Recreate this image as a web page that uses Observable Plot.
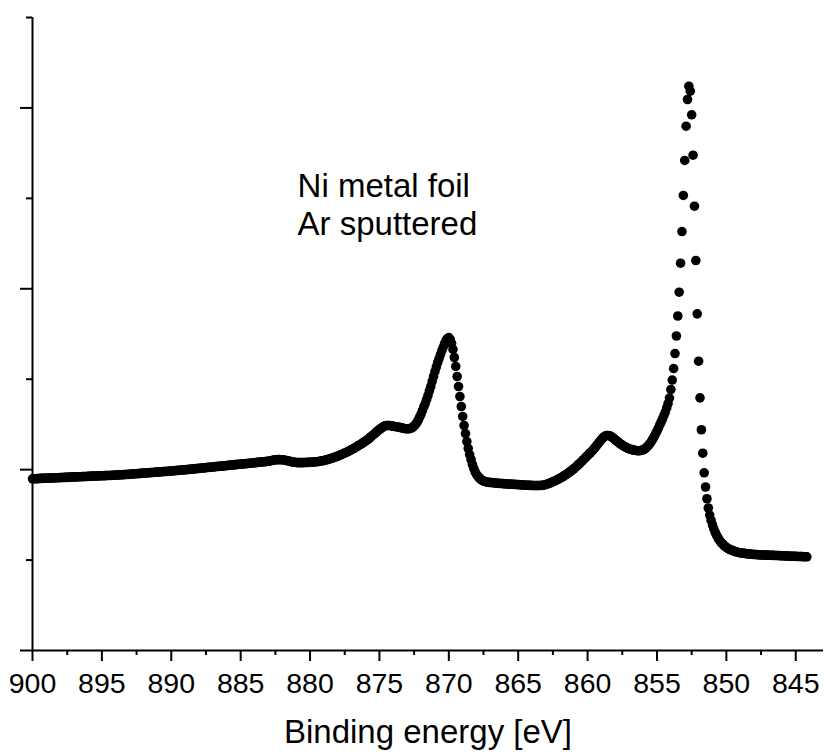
<!DOCTYPE html>
<html>
<head>
<meta charset="utf-8">
<script src="https://cdn.jsdelivr.net/npm/d3@7"></script>
<script src="https://cdn.jsdelivr.net/npm/@observablehq/plot@0.6"></script>
<style>
  html, body { margin: 0; padding: 0; background: #fff; }
</style>
</head>
<body>
<div id="chart"></div>
<script>
// Ni 2p XPS spectrum of an Ar-sputtered Ni foil.
// Intensity in arbitrary units, one channel every 0.1 eV,
// each block listed from high to low binding energy.
const channelStep = 0.1; // eV

// 900.0 – 878.1 eV: inelastic background with the weak bump near 882 eV
const backgroundStart = 900.0;
const background = [
  18.99, 18.99, 19.00, 19.01, 19.01, 19.02, 19.03, 19.03, 19.04, 19.05,
  19.06, 19.06, 19.07, 19.07, 19.08, 19.09, 19.09, 19.10, 19.11, 19.11,
  19.12, 19.13, 19.13, 19.14, 19.15, 19.15, 19.16, 19.17, 19.17, 19.18,
  19.19, 19.20, 19.20, 19.21, 19.22, 19.22, 19.23, 19.24, 19.24, 19.25,
  19.26, 19.27, 19.27, 19.28, 19.29, 19.29, 19.30, 19.30, 19.31, 19.32,
  19.32, 19.33, 19.34, 19.34, 19.35, 19.36, 19.36, 19.37, 19.38, 19.38,
  19.39, 19.40, 19.41, 19.42, 19.43, 19.44, 19.45, 19.46, 19.47, 19.48,
  19.49, 19.50, 19.51, 19.53, 19.54, 19.55, 19.56, 19.57, 19.59, 19.60,
  19.61, 19.62, 19.63, 19.65, 19.66, 19.67, 19.68, 19.69, 19.71, 19.72,
  19.73, 19.74, 19.75, 19.77, 19.78, 19.79, 19.80, 19.81, 19.83, 19.84,
  19.85, 19.86, 19.88, 19.89, 19.91, 19.92, 19.93, 19.95, 19.96, 19.97,
  19.99, 20.00, 20.02, 20.03, 20.05, 20.06, 20.08, 20.09, 20.11, 20.12,
  20.14, 20.16, 20.17, 20.19, 20.20, 20.22, 20.24, 20.25, 20.27, 20.28,
  20.30, 20.31, 20.33, 20.34, 20.36, 20.37, 20.39, 20.40, 20.42, 20.43,
  20.45, 20.47, 20.48, 20.50, 20.51, 20.53, 20.55, 20.56, 20.58, 20.59,
  20.61, 20.62, 20.64, 20.65, 20.67, 20.68, 20.70, 20.71, 20.73, 20.74,
  20.76, 20.78, 20.80, 20.82, 20.83, 20.85, 20.86, 20.87, 20.89, 20.91,
  20.93, 20.96, 20.99, 21.02, 21.05, 21.08, 21.10, 21.11, 21.11, 21.10,
  21.09, 21.07, 21.04, 21.01, 20.98, 20.94, 20.90, 20.86, 20.83, 20.81,
  20.79, 20.78, 20.78, 20.78, 20.78, 20.78, 20.79, 20.79, 20.80, 20.80,
  20.81, 20.82, 20.83, 20.85, 20.87, 20.88, 20.90, 20.93, 20.96, 20.98,
  21.01, 21.05, 21.09, 21.13, 21.18, 21.22, 21.28, 21.33, 21.39, 21.44
];

// 878.0 – 863.1 eV: Ni 2p1/2 line (870 eV) with its satellite shoulder near 874.5 eV
const ni2p12Start = 878.0;
const ni2p12 = [
  21.50, 21.56, 21.63, 21.70, 21.76, 21.83, 21.90, 21.97, 22.06, 22.14,
  22.23, 22.30, 22.39, 22.48, 22.57, 22.67, 22.76, 22.86, 22.96, 23.06,
  23.15, 23.26, 23.38, 23.51, 23.64, 23.78, 23.91, 24.04, 24.17, 24.31,
  24.44, 24.55, 24.66, 24.77, 24.85, 24.88, 24.88, 24.88, 24.86, 24.84,
  24.80, 24.77, 24.75, 24.72, 24.69, 24.66, 24.62, 24.58, 24.55, 24.53,
  24.52, 24.52, 24.55, 24.60, 24.69, 24.83, 24.99, 25.21, 25.49, 25.82,
  26.15, 26.54, 26.93, 27.31, 27.76, 28.20, 28.70, 29.19, 29.75, 30.30,
  30.85, 31.35, 31.85, 32.29, 32.73, 33.17, 33.56, 33.95, 34.28, 34.50,
  34.61, 34.39, 33.95, 33.29, 32.40, 31.41, 30.30, 29.19, 28.09, 26.98,
  25.88, 24.88, 23.99, 23.11, 22.34, 21.67, 21.12, 20.57, 20.13, 19.74,
  19.46, 19.24, 19.08, 18.93, 18.82, 18.74, 18.69, 18.64, 18.61, 18.59,
  18.58, 18.57, 18.55, 18.53, 18.51, 18.49, 18.48, 18.47, 18.46, 18.45,
  18.44, 18.43, 18.42, 18.41, 18.40, 18.39, 18.38, 18.37, 18.36, 18.35,
  18.34, 18.33, 18.32, 18.31, 18.30, 18.29, 18.28, 18.27, 18.26, 18.26,
  18.25, 18.24, 18.24, 18.24, 18.24, 18.24, 18.25, 18.26, 18.28, 18.31
];

// 863.0 – 855.1 eV: satellite of the Ni 2p3/2 line near 858.6 eV
const satelliteStart = 863.0;
const satellite = [
  18.36, 18.41, 18.47, 18.52, 18.59, 18.66, 18.72, 18.80, 18.88, 18.95,
  19.03, 19.12, 19.21, 19.31, 19.41, 19.51, 19.62, 19.73, 19.85, 19.97,
  20.09, 20.23, 20.36, 20.50, 20.65, 20.79, 20.94, 21.10, 21.25, 21.41,
  21.56, 21.72, 21.87, 22.03, 22.19, 22.37, 22.56, 22.76, 22.96, 23.16,
  23.34, 23.51, 23.64, 23.73, 23.78, 23.78, 23.74, 23.66, 23.55, 23.43,
  23.30, 23.17, 23.05, 22.92, 22.81, 22.71, 22.61, 22.53, 22.44, 22.36,
  22.29, 22.25, 22.21, 22.17, 22.14, 22.12, 22.09, 22.09, 22.11, 22.14,
  22.19, 22.28, 22.39, 22.54, 22.71, 22.91, 23.13, 23.39, 23.66, 23.96
];

// 855.0 – 844.2 eV: Ni 2p3/2 main line (852.7 eV) and its low-energy side
const ni2p32Start = 855.0;
const ni2p32 = [
  24.27, 24.60, 24.94, 25.27, 25.60, 25.99, 26.37, 26.82, 27.31, 27.92,
  28.86, 29.91, 31.18, 32.84, 34.78, 36.99, 39.62, 42.83, 46.33, 50.32,
  54.19, 57.98, 60.93, 62.40, 61.85, 59.24, 54.77, 49.13, 43.13, 37.23,
  31.99, 27.94, 24.41, 21.82, 19.65, 18.08, 16.78, 15.76, 14.98, 14.38,
  13.88, 13.44, 13.05, 12.72, 12.44, 12.20, 11.99, 11.81, 11.66, 11.52,
  11.40, 11.30, 11.21, 11.14, 11.07, 11.01, 10.96, 10.91, 10.87, 10.84,
  10.80, 10.78, 10.76, 10.74, 10.72, 10.69, 10.68, 10.66, 10.65, 10.63,
  10.62, 10.61, 10.60, 10.59, 10.58, 10.57, 10.56, 10.56, 10.55, 10.55,
  10.54, 10.53, 10.53, 10.52, 10.52, 10.51, 10.50, 10.50, 10.49, 10.48,
  10.47, 10.47, 10.46, 10.45, 10.45, 10.44, 10.43, 10.43, 10.42, 10.42,
  10.41, 10.40, 10.40, 10.39, 10.39, 10.38, 10.37, 10.37, 10.36
];

// Axis ticks
const majorTicksX = [900, 895, 890, 885, 880, 875, 870, 865, 860, 855, 850, 845];
const minorTicksX = [897.5, 892.5, 887.5, 882.5, 877.5, 872.5, 867.5, 862.5, 857.5, 852.5, 847.5];
const majorTicksY = [0, 20, 40, 60];
const minorTicksY = [10, 30, 50, 70];

// Texts
const axisTitle = "Binding energy [eV]";
const sampleNote = "Ni metal foil\nAr sputtered";
const noteEnergy = 880.9;   // left edge of the note, eV
const noteCounts = 45.9;    // baseline of its last line

const blocks = [
  [backgroundStart, background],
  [ni2p12Start, ni2p12],
  [satelliteStart, satellite],
  [ni2p32Start, ni2p32]
];
const spectrum = blocks.flatMap(([start, values]) =>
  values.map((counts, i) => ({energy: +(start - i * channelStep).toFixed(1), counts}))
);

const font = "'Liberation Sans', Arial, Helvetica, sans-serif";
const noLabel = () => "";

const chart = Plot.plot({
  width: 825,
  height: 753,
  marginTop: 17,
  marginRight: 2,
  marginBottom: 103,
  marginLeft: 32,
  style: {fontFamily: font, color: "#000", background: "#fff", overflow: "visible"},
  x: {domain: [900, 843]},
  y: {domain: [0, 70]},
  marks: [
    Plot.ruleX([900], {stroke: "#000", strokeWidth: 2}),
    Plot.ruleY([0], {stroke: "#000", strokeWidth: 2}),
    Plot.axisX({ticks: majorTicksX, tickSize: 11, strokeWidth: 2, tickFormat: noLabel, label: null}),
    Plot.axisX({ticks: minorTicksX, tickSize: 5, strokeWidth: 2, tickFormat: noLabel, label: null}),
    Plot.axisY({ticks: majorTicksY, tickSize: 12, strokeWidth: 2, tickFormat: noLabel, label: null}),
    Plot.axisY({ticks: minorTicksY, tickSize: 6, strokeWidth: 2, tickFormat: noLabel, label: null}),
    // tick labels under the major x ticks
    Plot.text(majorTicksX, {
      x: (d) => d, frameAnchor: "bottom", dy: 42.5, text: (d) => String(d),
      lineAnchor: "bottom", textAnchor: "middle", fontSize: 28.5, fill: "#000"
    }),
    Plot.dot(spectrum, {x: "energy", y: "counts", r: 4.8, fill: "#000", stroke: null}),
    Plot.text([sampleNote], {
      x: () => noteEnergy, y: () => noteCounts, text: (d) => d,
      textAnchor: "start", lineAnchor: "bottom", lineHeight: 1.15, fontSize: 33, fill: "#000"
    }),
    Plot.text([axisTitle], {
      frameAnchor: "bottom", dy: 92, text: (d) => d,
      lineAnchor: "bottom", fontSize: 33, fill: "#000"
    })
  ]
});

document.getElementById("chart").appendChild(chart);
</script>
</body>
</html>
